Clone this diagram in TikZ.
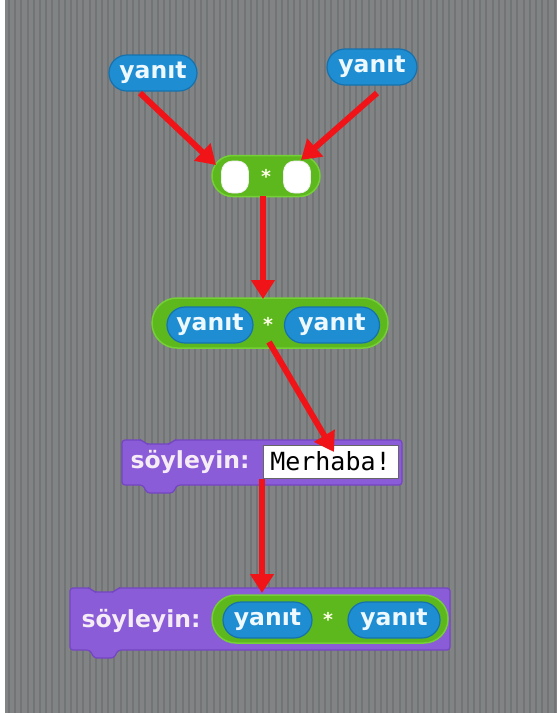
\documentclass[tikz,border=0pt]{standalone}
\usepackage{fontspec}
\setmainfont{DejaVu Sans}
\newfontfamily\monofnt{DejaVu Sans Mono}
\usetikzlibrary{arrows.meta,calc,shapes.misc}
\definecolor{bg}{HTML}{818384}
\definecolor{stripe}{HTML}{727576}
\definecolor{bluefill}{HTML}{1E8DD2}
\definecolor{bluedge}{HTML}{1672AE}
\definecolor{greenfill}{HTML}{5CB81C}
\definecolor{greenedge}{HTML}{74D036}
\definecolor{purplefill}{HTML}{8B5CD8}
\definecolor{purpleedge}{HTML}{7446C2}
\definecolor{pilltext}{HTML}{EEF8FF}
\definecolor{cmdtext}{HTML}{F6ECF6}
\definecolor{arrowred}{HTML}{F01418}
\tikzset{
  sensing/.style={rounded rectangle, draw=bluedge, fill=bluefill, line width=1.2pt,
    minimum height=36pt, inner sep=0pt, text=pilltext,
    font=\fontsize{23.5}{23.5}\selectfont\bfseries},
  operator/.style={rounded rectangle, draw=greenedge, fill=greenfill, line width=1.5pt,
    inner sep=0pt},
  slot/.style={rectangle, rounded corners=11pt, fill=white, draw=white!85!gray, line width=0.8pt,
    inner sep=0pt, minimum width=27pt, minimum height=32pt},
  startxt/.style={text=white!90!yellow, font=\fontsize{19}{19}\selectfont\bfseries, inner sep=0pt},
  cmdlabel/.style={text=cmdtext, font=\fontsize{23.5}{23.5}\selectfont\bfseries, inner sep=0pt},
  cmdblock/.style={fill=purplefill, draw=purpleedge, line width=1.2pt, rounded corners=3pt},
  textbox/.style={fill=white, draw=black!60, line width=0.8pt, inner sep=0pt,
    font=\fontsize{25}{25}\selectfont\monofnt},
  redarrow/.style={draw=arrowred, line width=6pt,
    -{Triangle[width=23pt,length=19pt]}}
}
\begin{document}
\begin{tikzpicture}[x=1pt,y=-1pt]
\useasboundingbox (0,0) rectangle (557,713);
\fill[bg] (0,0) rectangle (557,713);
\foreach \x in {8,14.2,...,557} \fill[stripe] (\x,0) rectangle ++(2,713);
\fill[white] (0,0) rectangle (5,713);

% top reporters
\node[sensing, minimum width=88pt] (y1) at (153,73) {yanıt};
\node[sensing, minimum width=90pt] (y2) at (372,67) {yanıt};

% empty operator block
\node[operator, minimum width=108pt, minimum height=41pt] (g1) at (266,176) {};
\node[slot] (s1) at (235,177) {};
\node[slot] (s2) at (297,177) {};
\node[startxt] (st1) at (266,176) {*};

% filled operator block
\node[operator, minimum width=236pt, minimum height=50pt] (g2) at (270,323) {};
\node[sensing, minimum width=86pt] (y3) at (210,325) {yanıt};
\node[sensing, minimum width=95pt] (y4) at (332,325) {yanıt};
\node[startxt] (st2) at (268,324) {*};

% say block 1
\draw[cmdblock] (122,440) -- (142,440) -- (146,444) -- (170,444) -- (174,440) -- (402,440)
  -- (402,485) -- (177,485) -- (173,493) -- (147,493) -- (143,485) -- (122,485) -- cycle;
\node[cmdlabel] (c1) at (190,462) {söyleyin:};
\node[textbox, minimum width=135pt, minimum height=33pt] (m1) at (330.5,461.5) {Merhaba!};

% say block 2
\draw[cmdblock] (70,588) -- (90,588) -- (94,592) -- (114,592) -- (118,588) -- (450,588)
  -- (450,650) -- (118,650) -- (114,658) -- (94,658) -- (90,650) -- (70,650) -- cycle;
\node[cmdlabel] (c2) at (141,621) {söyleyin:};
\node[operator, minimum width=236pt, minimum height=48pt] (g3) at (330,619) {};
\node[sensing, minimum width=89pt] (y5) at (267.5,620) {yanıt};
\node[sensing, minimum width=92pt] (y6) at (394,620) {yanıt};
\node[startxt] (st3) at (328,619) {*};

% arrow end points
\coordinate (a1s) at (140,93);
\coordinate (a1e) at (216,165);
\coordinate (a2s) at (377,93);
\coordinate (a2e) at (301,160);
\coordinate (a3s) at (263,196);
\coordinate (a3e) at (263,299);
\coordinate (a4s) at (269,342);
\coordinate (a4e) at (334,452);
\coordinate (a5s) at (262,479);
\coordinate (a5e) at (262,593);

\draw[redarrow] (a1s) -- (a1e);
\draw[redarrow] (a2s) -- (a2e);
\draw[redarrow] (a3s) -- (a3e);
\draw[redarrow] (a4s) -- (a4e);
\draw[redarrow] (a5s) -- (a5e);
\end{tikzpicture}
\end{document}
